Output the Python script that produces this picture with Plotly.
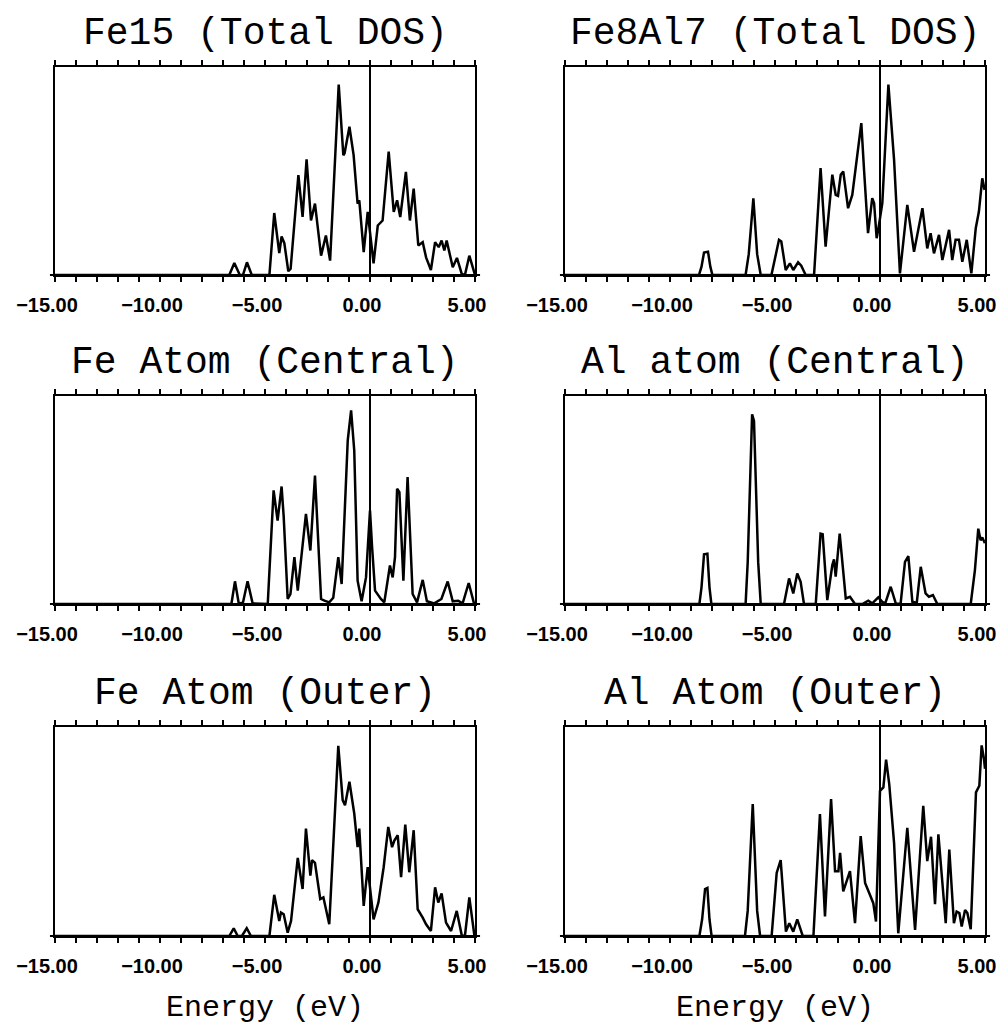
import plotly.graph_objects as go

# ---------------- data (energies in eV, DOS in arbitrary units) ----------------
PANEL_TITLES = ["Fe15 (Total DOS)", "Fe8Al7 (Total DOS)",
                "Fe Atom (Central)", "Al atom (Central)",
                "Fe Atom (Outer)", "Al Atom (Outer)"]
X_TITLE = "Energy (eV)"
E_FERMI = 0.0
TICK_VALUES = list(range(-15, 6))
TICK_LABELS = ["−15.00", "", "", "", "", "−10.00", "", "", "", "", "−5.00",
               "", "", "", "", "0.00", "", "", "", "", "5.00"]

E_fe15 = [-15, -6.7, -6.46, -6.2, -6.05, -5.86, -5.63, -4.79, -4.56, -4.32, -4.21, -4.08, -3.89, -3.78,
          -3.41, -3.21, -3.02, -2.81, -2.62, -2.33, -2.10, -1.90, -1.49, -1.27, -1.21, -0.98, -0.78,
          -0.59, -0.51, -0.30, -0.11, 0.17, 0.37, 0.60, 0.89, 1.13, 1.29, 1.44, 1.71, 1.90, 2.08, 2.30,
          2.51, 2.67, 2.90, 3.10, 3.27, 3.41, 3.54, 3.65, 3.94, 4.14, 4.37, 4.52, 4.73, 4.97, 5.0]
DOS_fe15 = [0, 0, 5.8, 0, 0, 6.1, 0, 0, 29.8, 10.5, 18.5, 15.3, 1.8, 3,
            48, 27.9, 55.6, 26.2, 34.3, 9.3, 19, 6.9, 91.5, 57.6, 58.5, 71.3, 57.6,
            34.3, 35.9, 11, 30.3, 5.6, 23.8, 26.2, 59.3, 30.3, 35.9, 27.9, 49.6, 26.2, 41.5, 14.2,
            15.8, 8.5, 2.4, 15.8, 13.4, 16.6, 11.8, 16.6, 3.7, 8.2, 0.5, 0, 9.3, 0.5, 0]

E_fe8al7 = [-15, -8.62, -8.5, -8.38, -8.19, -8.08, -7.98, -6.40, -6.25, -6.03, -5.85, -5.68,
            -5.17, -4.81, -4.70, -4.49, -4.29,
            -4.13, -3.90, -3.75, -3.54, -3.14, -2.83, -2.59, -2.27, -2.11, -2.00, -1.87, -1.75, -1.52,
            -1.32, -1.08, -0.89, -0.76, -0.57, -0.37, -0.28, -0.16, -0.08, 0.11, 0.40, 0.67, 0.95,
            1.30, 1.62, 2.02, 2.25, 2.41, 2.57, 2.81, 2.97, 3.29, 3.44, 3.60, 3.76, 3.92, 4.13, 4.35,
            4.56, 4.71, 4.87, 4.98]
DOS_fe8al7 = [0, 0, 4, 10.8, 11.2, 4, 0, 0, 10, 36.9, 10, 0,
              0, 16.9, 16.1, 2.4, 5.6,
              2.4, 6.1, 4.5, 0, 0, 51.4, 13.6, 48.2, 38.5, 38, 48.2, 49.8, 32.1,
              38.5, 57.8, 73, 50.6, 20.1, 36.9, 34.5, 17.7, 22, 34.5, 91.5, 55.4, 0.8,
              33.7, 11.2, 32.1, 12.8, 20.1, 10.4, 19.3, 7.2, 21.7, 7.2, 16.9, 16.9, 6.4, 16.9, 0.8,
              22.5, 30.5, 46.5, 40.9]

E_fe_central = [-15, -6.6, -6.43, -6.25, -6.05, -5.83, -5.59, -4.87, -4.59, -4.40, -4.21, -4.11, -3.92,
                -3.79, -3.60, -3.44, -3.05, -2.84, -2.62, -2.33, -2.17, -1.94, -1.75, -1.51, -1.35,
                -1.06, -0.90, -0.75, -0.59, -0.40, -0.19, 0.0, 0.10, 0.24, 0.52, 0.68, 0.95, 1.08,
                1.19, 1.29, 1.40, 1.59, 1.79, 2.03, 2.24, 2.51, 2.71, 3.06, 3.40, 3.70, 3.94, 4.2,
                4.41, 4.70, 4.94, 5.0]
DOS_fe_central = [0, 0, 10.9, 0.3, 0.6, 10.9, 0.3, 0, 54.6, 40.1, 56.5, 42, 2.4,
                  4.8, 22.5, 6.4, 43.3, 25.7, 61.8, 2.4, 1.6, 0.8, 3, 22.5, 9.6,
                  78.7, 93.1, 73.8, 11.2, 1.3, 12.8, 44.9, 27.3, 6.4, 2.4, 0.8, 18.5, 12.8,
                  22.5, 55.4, 53.8, 11.2, 61, 4.8, 0.8, 11.6, 1.3, 0.3, 2.4, 10.8, 1.3, 1.6,
                  0.3, 10.1, 0.8, 0]

E_al_central = [-15, -8.6, -8.5, -8.38, -8.22, -8.12, -8.03,
                -6.40, -6.30, -6.18, -6.09, -6.00, -5.92, -5.80, -5.68,
                -4.57, -4.33, -4.13, -3.94,
                -3.78, -3.62, -3.06, -2.83, -2.73, -2.51, -2.27, -2.19, -2.11, -1.92, -1.63, -1.43,
                -1.19, -0.84, -0.56, -0.37, -0.08, 0.11, 0.25, 0.51, 0.75, 0.98, 1.19, 1.35, 1.54,
                1.75, 1.94, 2.17, 2.33, 2.52, 2.73, 4.32, 4.52, 4.68, 4.79, 4.87, 4.97, 5.0]
DOS_al_central = [0, 0, 8, 23.9, 24.2, 8, 0,
                  0, 20, 60, 91.2, 88, 60, 20, 0,
                  0, 12.3, 5.1, 14.7,
                  10.7, 0, 0, 33.8, 33.5, 1.9, 18.7, 21.5, 13.1, 33.8, 2.7, 3.5,
                  0, 0, 1.6, 0.3, 3.2, 1, 0.3, 8.3, 0.3, 0, 20.3, 23, 1.1,
                  0.5, 17.9, 5.1, 3.5, 4.3, 0, 0, 16.3, 36.2, 30.6, 32, 29.8, 30]

E_fe_outer = [-15, -6.7, -6.49, -6.3, -6.1, -5.87, -5.67, -4.79, -4.56, -4.32, -4.24, -4.11, -3.92,
              -3.76, -3.44, -3.21, -3.05, -2.84, -2.76, -2.62, -2.37, -2.22, -1.94, -1.51, -1.30,
              -1.19, -0.98, -0.75, -0.59, -0.51, -0.30, -0.11, 0.17, 0.40, 0.65, 0.87, 1.05, 1.16,
              1.32, 1.48, 1.68, 1.87, 2.08, 2.27, 2.51, 2.67, 2.90, 3.10, 3.25, 3.41, 3.62, 3.86,
              4.13, 4.37, 4.52, 4.73, 4.97, 5.0]
DOS_fe_outer = [0, 0, 3.7, 0, 0, 3.7, 0, 0, 19.7, 7.2, 11.2, 10.4, 1.6,
                7.2, 37.4, 22.5, 51.4, 28.9, 36.3, 35, 17.7, 18.5, 5.6, 91, 65,
                62.6, 73.8, 58.6, 42.5, 51.4, 14.4, 32.9, 8, 16, 32.9, 52.2, 42.5, 45.7,
                48.2, 28.1, 53.3, 30.5, 50.6, 12.8, 8.8, 5.6, 2.4, 23.3, 16, 20.4, 6.4, 2.4,
                12, 0.3, 0, 18.5, 0.3, 0]

E_al_outer = [-15, -8.6, -8.47, -8.33, -8.22, -8.12, -8.02,
              -6.43, -6.30, -6.06, -5.85, -5.71,
              -5.16, -4.92, -4.73, -4.48, -4.32,
              -4.13, -3.94, -3.68, -3.17, -2.86, -2.62, -2.33, -2.14, -1.98, -1.90, -1.75, -1.43,
              -1.19, -0.92, -0.71, -0.48, -0.32, -0.19, 0.0, 0.16, 0.29, 0.44, 0.67, 0.87, 1.30,
              1.67, 2.06, 2.25, 2.43, 2.62, 2.78, 3.13, 3.30, 3.52, 3.65, 3.78, 3.89, 4.05, 4.16,
              4.32, 4.57, 4.73, 4.84, 4.95, 5.0]
DOS_al_outer = [0, 0, 8, 22.5, 23, 8, 0,
                0, 12, 63.1, 12, 0,
                0, 30.2, 36.3, 2.1, 6.1,
                2.1, 8, 0, 0, 58.3, 9.3, 65.5, 31, 31, 39.8, 21.3, 31,
                6.1, 47.8, 25.4, 19.7, 15.7, 6.9, 69.5, 71.1, 84.4, 72.7, 44.6, 1.3, 51.8,
                2.9, 62.3, 35.8, 47.5, 15.2, 48.6, 6.1, 41.4, 6.1, 11.7, 11, 4.5, 12.5, 11,
                3.2, 68.7, 71.9, 91.2, 84.8, 80]

SERIES = [(E_fe15, DOS_fe15), (E_fe8al7, DOS_fe8al7),
          (E_fe_central, DOS_fe_central), (E_al_central, DOS_al_central),
          (E_fe_outer, DOS_fe_outer), (E_al_outer, DOS_al_outer)]

# ---------------- layout ----------------
W, H = 1002, 1025
COL_PX = [(55, 475), (565, 985)]
ROW_PX = [(67, 275), (396, 604), (727, 936)]

TITLE_FONT = dict(family="Liberation Mono, Courier New, monospace", size=38, color="black")
TICK_FONT = dict(family="Liberation Sans, Arial, sans-serif", size=20, color="black", weight="bold")

fig = go.Figure()
layout = dict(width=W, height=H, margin=dict(l=0, r=0, t=0, b=0, autoexpand=False),
              paper_bgcolor="white", plot_bgcolor="white", showlegend=False,
              annotations=[], shapes=[])

for i, (ev, dos) in enumerate(SERIES):
    n = i + 1
    r, c = divmod(i, 2)
    x0p, x1p = COL_PX[c]
    y0p, y1p = ROW_PX[r]
    xs = "" if n == 1 else str(n)
    xa, ya = "x" + xs, "y" + xs
    fig.add_trace(go.Scatter(x=ev, y=dos, mode="lines", xaxis=xa, yaxis=ya,
                             line=dict(color="black", width=2.5), hoverinfo="skip"))
    layout["xaxis" + xs] = dict(
        domain=[x0p / W, x1p / W], anchor=ya, range=[-15, 5], automargin=False,
        showline=True, linecolor="black", linewidth=2, mirror="ticks",
        ticks="outside", ticklen=5, tickwidth=2, tickcolor="black",
        tickvals=TICK_VALUES, ticktext=TICK_LABELS, tickfont=TICK_FONT,
        ticklabelshift=-8, ticklabelstandoff=6,
        showgrid=False, zeroline=False, fixedrange=True)
    layout["yaxis" + xs] = dict(
        domain=[1 - y1p / H, 1 - y0p / H], anchor=xa, range=[0, 100], automargin=False,
        showline=True, linecolor="black", linewidth=2, mirror=True,
        ticks="", showticklabels=False, showgrid=False, zeroline=False, fixedrange=True)
    # Fermi level line
    layout["shapes"].append(dict(type="line", xref=xa, yref=ya + " domain",
                                 x0=E_FERMI, x1=E_FERMI, y0=0, y1=1,
                                 line=dict(color="black", width=2)))
    # bottom baseline extends slightly beyond the frame
    layout["shapes"].append(dict(type="line", xref=xa + " domain", yref=ya + " domain",
                                 x0=-0.012, x1=1.012, y0=0, y1=0,
                                 line=dict(color="black", width=2)))
    layout["annotations"].append(dict(text=PANEL_TITLES[i], xref=xa + " domain", yref=ya + " domain",
                                      x=0.5, y=1, xanchor="center", yanchor="middle", yshift=34,
                                      showarrow=False, font=TITLE_FONT))
    if r == 2:
        layout["annotations"].append(dict(text=X_TITLE, xref=xa + " domain", yref=ya + " domain",
                                          x=0.5, y=0, xanchor="center", yanchor="middle", yshift=-72,
                                          showarrow=False,
                                          font=dict(family=TITLE_FONT["family"], size=30, color="black")))

fig.update_layout(**layout)
fig.write_html("out.html")
